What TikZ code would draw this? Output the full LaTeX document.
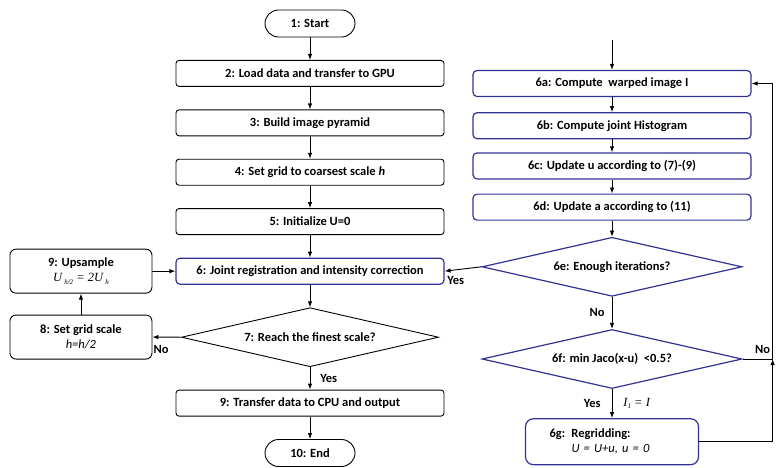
\documentclass[tikz,border=0pt]{standalone}
\usepackage{fontspec}
\setmainfont{Carlito}
\newfontfamily\formulafont{Liberation Serif}
\usetikzlibrary{positioning,shapes.geometric,arrows.meta}
\definecolor{frameblue}{RGB}{50,50,150}

\newcommand{\lowsub}[1]{\raisebox{-2.5pt}{\scriptsize #1}}

\tikzset{
  every node/.style={font=\fontsize{12.5}{15}\selectfont\bfseries},
  plainbox/.style={draw, rounded corners=3pt, line width=0.9pt, minimum width=268pt, minimum height=26pt, inner sep=2pt},
  bluebox/.style={plainbox, draw=frameblue, line width=1.2pt, rounded corners=4pt},
  sidebox/.style={plainbox, minimum width=142pt, minimum height=44pt, rounded corners=6pt, align=center},
  termbox/.style={draw, line width=0.9pt, rounded corners=13.5pt, minimum width=90pt, minimum height=27pt},
  decision/.style={draw, diamond, aspect=4.4, inner sep=0pt, line width=0.9pt, minimum width=257pt, minimum height=59pt},
  bluedecision/.style={decision, draw=frameblue, line width=1.2pt, minimum width=260pt},
  arr/.style={-{Latex[length=6pt,width=4.5pt]}, line width=0.9pt},
  lbl/.style={inner sep=2pt}
}

\begin{document}
\begin{tikzpicture}[x=1pt, y=1pt, node distance=22.5pt]
    \useasboundingbox (0,0) rectangle (781,-467);

    % outer loop over the scales
    \node[termbox] (start) at (310,-23.5) {1: Start};
    \node[plainbox, below=of start] (load) {2: Load data and transfer to GPU};
    \node[plainbox, below=of load] (pyramid) {3: Build image pyramid};
    \node[plainbox, below=of pyramid] (coarse) {4: Set grid to coarsest scale \textit{h}};
    \node[plainbox, below=of coarse] (initU) {5: Initialize U=0};
    \node[bluebox, below=of initU] (joint) {6: Joint registration and intensity correction};
    \node[decision, below=of joint] (finest) {7: Reach the finest scale?};
    \node[plainbox, below=of finest] (transfer) {9: Transfer data to CPU and output};
    \node[termbox, below=of transfer] (finish) {10: End};

    \node[sidebox, left=23pt of joint] (upsample)
        {9: Upsample\\ {\mdseries\formulafont\itshape U\,\lowsub{h/2} = 2U\,\lowsub{h}}};
    \node[sidebox, below=21pt of upsample] (gridscale) {8: Set grid scale\\ {\mdseries\itshape h=h/2}};

    % inner loop of step 6
    \node[bluebox, minimum width=278pt] (warp) at (612,-83.5) {6a: Compute~ warped image I};
    \node[bluebox, minimum width=278pt, below=15pt of warp] (hist) {6b: Compute joint Histogram};
    \node[bluebox, minimum width=278pt, below=13pt of hist] (updu) {6c: Update u according to (7)-(9)};
    \node[bluebox, minimum width=278pt, below=14pt of updu] (upda) {6d: Update a according to (11)};
    \node[bluedecision, below=16pt of upda] (iter) {6e: Enough iterations?};
    \node[bluedecision, below=32pt of iter] (jaco) {6f: min Jaco(x-u)~ <0.5?};
    \node[bluebox, minimum width=173pt, minimum height=46pt, rounded corners=8pt, text width=125pt, inner xsep=24pt, align=left, below=29pt of jaco] (regrid)
        {6g: Regridding:\\ \hspace*{22pt}{\mdseries\itshape U = U+u, u = 0}};

    \coordinate (entry) at ([yshift=30pt]warp.north);
    \coordinate (rail) at ([xshift=30pt]jaco.east);

    % connectors, left
    \draw[arr] (start) -- (load);
    \draw[arr] (load) -- (pyramid);
    \draw[arr] (pyramid) -- (coarse);
    \draw[arr] (coarse) -- (initU);
    \draw[arr] (initU) -- (joint);
    \draw[arr] (joint) -- (finest);
    \draw[arr] (finest) -- node[lbl, right=8pt] {Yes} (transfer);
    \draw[arr] (transfer) -- (finish);
    \draw[arr] (finest.west) -- node[lbl, below=6pt, pos=0.7] {No} (gridscale.east);
    \draw[arr] (gridscale) -- (upsample);
    \draw[arr] (upsample) -- (joint);

    % connectors, right
    \draw[arr] (entry) -- (warp);
    \draw[arr] (warp) -- (hist);
    \draw[arr] (hist) -- (updu);
    \draw[arr] (updu) -- (upda);
    \draw[arr] (upda) -- (iter);
    \draw[arr] (iter.west) -- node[lbl, below=4pt, pos=0.7] {Yes} (joint.east);
    \draw[arr] (iter) -- node[lbl, left=5pt] {No} (jaco);
    \draw[arr] (jaco) -- node[lbl, left=9pt] {Yes}
        node[lbl, right=9pt] {\mdseries\formulafont\itshape I\lowsub{1} = I} (regrid);
    \draw[arr] (jaco.east) -- node[lbl, above=3pt, pos=0.67] {No} (rail) |- (warp.east);
    \draw[arr] (regrid.east) -| (rail);
\end{tikzpicture}
\end{document}
